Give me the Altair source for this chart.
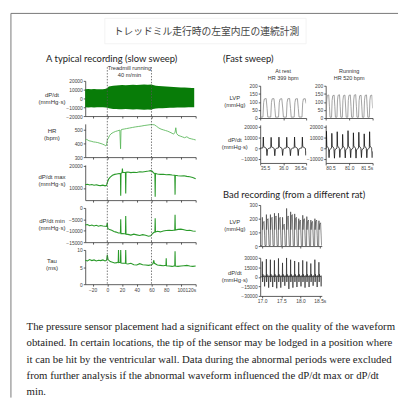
import altair as alt
import pandas as pd

# ---------------- slow sweep data ----------------
env_t = [-30,-26,-22,-18,-14,-10,-6,-2,0,2,4,8,12,16,20,25,30,35,40,45,50,55,60,62,66,70,75,80,85,90,95,100,105,110,115,118]
env_hi = [10500,10800,10400,10700,10500,10600,10400,11000,12000,13500,14000,14500,14800,15000,15200,15000,15400,15500,15300,15600,15800,15600,16000,15200,14500,14200,13800,13600,13200,13000,12800,12600,12400,12200,12000,12000]
env_lo = [-10000,-10300,-9900,-10200,-10000,-10100,-10000,-10300,-10500,-11000,-11500,-12000,-12000,-12200,-12300,-12000,-12400,-12500,-12300,-12600,-12700,-12500,-12800,-12000,-11500,-11200,-11000,-10800,-10600,-10500,-10400,-10300,-10200,-10100,-10000,-10000]

hr_t = [-30,-28,-25,-22,-19,-16,-13,-10,-7,-4,-2,-1,0,1,3,5,8,11,14,17,18,18.6,20,23,26,30,34,38,42,46,50,54,58,61,64,67,70,73,76,79,82,85,88,90,92,93,94,96,99,102,105,108,111,114,117,120]
hr_v = [420,428,418,415,410,408,405,400,395,388,382,385,425,432,455,468,478,485,490,495,360,496,500,503,506,510,514,518,521,524,528,531,534,535,533,522,510,502,497,492,487,480,472,466,480,512,472,458,452,446,440,447,436,432,428,424]

mx_t = [-30,-27,-24,-21,-18,-15,-12,-9,-6,-3,-1,0,2,4,7,10,13,16,17.8,18.2,18.6,20,20.5,21,24.6,25,25.4,28,32,36,40,44,48,52,56,59,61,63,64.6,65,65.4,68,72,76,80,84,88,91.6,92,92.4,96,100,104,108,112,116,120]
mx_v = [11500,11700,11400,11600,11300,11500,11200,11100,11300,11000,11200,12500,14200,15000,15800,16200,16400,16600,16500,6500,16700,17000,18800,17200,17100,7500,17200,17300,17000,17200,17100,17400,17300,17500,17700,17900,17600,16800,16600,6000,16600,16400,16200,16300,16000,16100,15900,15800,7000,15800,15600,15500,15600,15300,15100,14800,14200]

mn_t = [-30,-27,-24,-21,-18,-15,-12,-9,-6,-3,-1,0,0.6,3,6,9,12,15,17.8,18.2,18.6,21,24.6,25,25.4,28,32,36,40,44,48,52,56,59,61,63,64.6,65,65.4,68,72,76,80,84,88,91.6,92,92.4,96,100,104,108,112,116,120]
mn_v = [-7500,-7300,-7800,-7500,-7900,-7600,-8000,-7700,-7900,-8000,-8100,-6500,-9000,-9500,-9800,-10300,-10600,-11000,-11000,-5000,-11300,-11200,-11400,-3500,-11500,-11600,-11900,-11500,-11800,-12100,-11700,-12000,-12400,-12200,-11400,-10800,-10600,-4500,-10500,-10200,-10500,-10100,-9900,-9800,-9900,-9700,-3000,-9700,-9400,-9300,-9600,-9900,-9800,-10100,-10200]

tau_t = [-30,-27,-24,-21,-18,-15,-12,-9,-6,-3,-1,0,1,4,7,10,13,14.8,15.2,15.6,17.8,18.2,18.6,21,24.6,25,25.4,28,32,36,40,44,48,52,56,60,62,63,64,68,72,76,79.6,80,80.4,84,88,91.6,92,92.4,96,100,104,108,112,116,120]
tau_v = [7.0,6.8,7.2,6.9,7.1,6.8,7.0,6.9,7.1,6.8,7.0,8.6,7.2,6.6,6.4,6.2,6.3,6.5,10,6.3,6.4,10,6.2,6.1,6.2,10,6.0,5.9,6.1,5.7,5.6,6.0,5.7,5.6,5.5,5.7,6.0,7.0,6.1,5.6,5.5,5.4,5.5,7.6,5.4,5.3,5.2,5.4,9.6,5.3,5.2,5.3,5.4,5.5,5.3,5.2,5.3]

slow_ticks = [-20, 0, 20, 40, 60, 80, 100, 120]
run_marks = [0, 60]

# ---------------- fast sweep data ----------------
rest_lvp_t = [35.50,35.56,35.575,35.59,35.63,35.65,35.665,
              35.73,35.745,35.76,35.80,35.82,35.835,
              35.90,35.915,35.93,35.97,35.99,36.005,
              36.07,36.085,36.10,36.14,36.16,36.175,
              36.24,36.255,36.27,36.31,36.33,36.345,
              36.41,36.425,36.44,36.48,36.50]
rest_lvp_v = [6,6,95,118,121,60,6,
              6,96,119,120,58,5,
              6,94,117,120,62,6,
              5,96,119,121,60,5,
              6,95,118,120,59,6,
              6,95,118,120,90]

rest_dp_t = [35.50,35.56,35.568,35.576,35.635,35.648,35.66,35.69,
             35.73,35.738,35.746,35.805,35.818,35.83,35.86,
             35.90,35.908,35.916,35.975,35.988,36.00,36.03,
             36.07,36.078,36.086,36.145,36.158,36.17,36.20,
             36.24,36.248,36.256,36.315,36.328,36.34,36.37,
             36.41,36.418,36.426,36.485,36.498,36.50]
rest_dp_v = [-100,300,10500,1500,-300,-7000,-1200,-100,
             300,10200,1400,-300,-7200,-1100,-100,
             300,10400,1500,-300,-6900,-1200,-100,
             300,10300,1500,-300,-7100,-1200,-100,
             300,10500,1400,-300,-7000,-1100,-100,
             300,10400,1500,-300,-6800,-3000]

run_lvp_t = [80.50,80.51,80.522,80.535,80.565,80.58,80.592,
             80.625,80.637,80.65,80.68,80.695,80.707,
             80.74,80.752,80.765,80.795,80.81,80.822,
             80.855,80.867,80.88,80.91,80.925,80.937,
             80.97,80.982,80.995,81.025,81.04,81.052,
             81.085,81.097,81.11,81.14,81.155,81.167,
             81.20,81.212,81.225,81.255,81.27,81.282,
             81.315,81.327,81.34,81.37,81.385,81.397,
             81.43,81.442,81.455,81.485,81.50]
run_lvp_v = [5,5,110,140,143,70,5,
             5,108,138,142,72,5,
             5,112,141,144,70,5,
             5,110,139,142,68,5,
             5,109,140,143,71,5,
             5,111,142,145,70,5,
             5,108,138,141,69,5,
             5,110,140,143,70,5,
             5,110,139,142,60]

run_dp_t = [80.50,80.51,80.516,80.524,80.56,80.572,80.582,
            80.625,80.631,80.639,80.675,80.687,80.697,
            80.74,80.746,80.754,80.79,80.802,80.812,
            80.855,80.861,80.869,80.905,80.917,80.927,
            80.97,80.976,80.984,81.02,81.032,81.042,
            81.085,81.091,81.099,81.135,81.147,81.157,
            81.20,81.206,81.214,81.25,81.262,81.272,
            81.315,81.321,81.329,81.365,81.377,81.387,
            81.43,81.436,81.444,81.48,81.492,81.50]
run_dp_v = [-500,0,16000,2000,0,-9000,-1500,
            0,14000,2000,0,-9500,-1500,
            0,15500,2000,0,-8800,-1500,
            0,13000,2000,0,-9200,-1500,
            0,16500,2000,0,-9000,-1500,
            0,14500,2000,0,-9400,-1500,
            0,15000,2000,0,-8900,-1500,
            0,13500,2000,0,-9100,-1500,
            0,15500,2000,0,-9000,-3000]

bad_lvp_t = [16.95,
    17.000,17.006,17.012,17.025,17.050,17.065,17.075,
    17.105,17.111,17.117,17.130,17.155,17.170,17.180,
    17.210,17.216,17.222,17.235,17.260,17.275,17.285,
    17.315,17.321,17.327,17.340,17.365,17.380,17.390,
    17.420,17.426,17.432,17.445,17.470,17.485,17.495,
    17.525,17.531,17.537,17.550,17.575,17.590,17.600,
    17.630,17.636,17.642,17.655,17.680,17.695,17.705,
    17.735,17.741,17.747,17.760,17.785,17.800,17.810,
    17.840,17.846,17.852,17.865,17.890,17.905,17.915,
    17.945,17.951,17.957,17.970,17.995,18.010,18.020,
    18.050,18.056,18.062,18.075,18.100,18.115,18.125,
    18.155,18.161,18.167,18.180,18.205,18.220,18.230,
    18.260,18.266,18.272,18.285,18.310,18.325,18.335,
    18.365,18.371,18.377,18.390,18.415,18.430,18.440,
    18.470,18.476,18.482,18.495,18.520,18.535,18.545]
bad_lvp_v = [3,
    3,210,120,170,180,80,3,
    3,230,120,190,200,80,3,
    3,230,120,200,210,80,3,
    3,240,120,210,220,80,3,
    3,240,120,200,210,80,3,
    3,210,120,150,160,80,3,
    3,275,120,210,220,80,3,
    3,250,120,220,230,80,3,
    3,235,120,200,210,80,3,
    3,200,120,180,190,80,3,
    3,225,120,190,200,80,3,
    3,215,120,180,190,80,3,
    3,190,120,170,180,80,3,
    3,200,120,180,190,80,3,
    3,185,120,160,170,80,3]

bad_dp_t = [16.95,
    17.000,17.005,17.012,17.020,17.035,17.055,17.065,17.075,17.090,
    17.105,17.110,17.117,17.125,17.140,17.160,17.170,17.180,17.195,
    17.210,17.215,17.222,17.230,17.245,17.265,17.275,17.285,17.300,
    17.315,17.320,17.327,17.335,17.350,17.370,17.380,17.390,17.405,
    17.420,17.425,17.432,17.440,17.455,17.475,17.485,17.495,17.510,
    17.525,17.530,17.537,17.545,17.560,17.580,17.590,17.600,17.615,
    17.630,17.635,17.642,17.650,17.665,17.685,17.695,17.705,17.720,
    17.735,17.740,17.747,17.755,17.770,17.790,17.800,17.810,17.825,
    17.840,17.845,17.852,17.860,17.875,17.895,17.905,17.915,17.930,
    17.945,17.950,17.957,17.965,17.980,18.000,18.010,18.020,18.035,
    18.050,18.055,18.062,18.070,18.085,18.105,18.115,18.125,18.140,
    18.155,18.160,18.167,18.175,18.190,18.210,18.220,18.230,18.245,
    18.260,18.265,18.272,18.280,18.295,18.315,18.325,18.335,18.350,
    18.365,18.370,18.377,18.385,18.400,18.420,18.430,18.440,18.455,
    18.470,18.475,18.482,18.490,18.505,18.525,18.535,18.545]
bad_dp_v = [0,
    0,24000,-8000,4000,0,1500,-15000,2000,0,
    0,28000,-8000,4000,0,1500,-17000,2000,0,
    0,27000,-8000,4000,0,1500,-16000,2000,0,
    0,26000,-8000,4000,0,1500,-18000,2000,0,
    0,29000,-8000,4000,0,1500,-17000,2000,0,
    0,22000,-8000,4000,0,1500,-14000,2000,0,
    0,30000,-8000,4000,0,1500,-19000,2000,0,
    0,27000,-8000,4000,0,1500,-17000,2000,0,
    0,25000,-8000,4000,0,1500,-16000,2000,0,
    0,23000,-8000,4000,0,1500,-15000,2000,0,
    0,26000,-8000,4000,0,1500,-17000,2000,0,
    0,24000,-8000,4000,0,1500,-16000,2000,0,
    0,21000,-8000,4000,0,1500,-14000,2000,0,
    0,27000,-8000,4000,0,1500,-16000,2000,0,
    0,23000,-8000,4000,0,1500,-15000,2000]

# ---------------- texts ----------------
jp_title = "トレッドミル走行時の左室内圧の連続計測"
head_slow = "A typical recording (slow sweep)"
head_fast = "(Fast sweep)"
head_bad = "Bad recording (from a different rat)"
treadmill_label = ["Treadmill running", "40 m/min"]
paragraph = [
    "The pressure sensor placement had a significant effect on the quality of the waveform",
    "obtained. In certain locations, the tip of the sensor may be lodged in a position where",
    "it can be hit by the ventricular wall. Data during the abnormal periods were excluded",
    "from further analysis if the abnormal waveform influenced the dP/dt max or dP/dt",
    "min.",
]

SANS = "Liberation Sans"
HEAD = "Lato"
one = pd.DataFrame({"z": [0]})


def spacer(w, h):
    return alt.Chart(one).mark_point(opacity=0, size=1).encode(
        x=alt.value(0), y=alt.value(0)).properties(width=w, height=h)


def label(lines, x, y, size=6.2, lh=7.5):
    return alt.Chart(one).mark_text(text=lines, align="center", baseline="top",
                                    font=SANS, fontSize=size, color="#333",
                                    lineHeight=lh).encode(x=alt.value(x), y=alt.value(y))


# ---------------- slow sweep panels ----------------
def slow_x(show_labels):
    return alt.X("t:Q", scale=alt.Scale(domain=[-30, 120], nice=False, zero=False),
                 axis=alt.Axis(values=slow_ticks, labels=show_labels, title=None,
                               labelExpr="datum.value == 120 ? '120s' : datum.label"))


def slow_panel(df, kind, ydomain, yvals, h, lines, ly, color, show_x=False,
               rule_top=-9, extra=None, sw=1.0):
    X = slow_x(show_x)
    Y = alt.Y("v:Q", scale=alt.Scale(domain=ydomain, nice=False, zero=False),
              axis=alt.Axis(values=yvals, title=None, format="d"))
    if kind == "area":
        main = alt.Chart(df).mark_area(color=color, opacity=1).encode(
            x=X, y=Y, y2="lo:Q")
    else:
        main = alt.Chart(df).mark_line(color=color, strokeWidth=sw).encode(x=X, y=Y)
    rules = alt.Chart(pd.DataFrame({"t": run_marks})).mark_rule(
        color="#555", strokeDash=[1.5, 1.5], strokeWidth=0.8).encode(
        x=X, y=alt.value(rule_top), y2=alt.value(h))
    layers = [main, rules, label(lines, -34, ly)]
    if extra is not None:
        layers.append(extra)
    return alt.layer(*layers).properties(width=113, height=h)


df_env = pd.DataFrame({"t": env_t, "v": env_hi, "lo": env_lo})
df_hr = pd.DataFrame({"t": hr_t, "v": hr_v})
df_mx = pd.DataFrame({"t": mx_t, "v": mx_v})
df_mn = pd.DataFrame({"t": mn_t, "v": mn_v})
df_tau = pd.DataFrame({"t": tau_t, "v": tau_v})

tread = alt.Chart(pd.DataFrame({"t": [30]})).mark_text(
    text=treadmill_label, align="center", baseline="top", font=SANS, fontSize=5.8,
    color="#333", lineHeight=7.5).encode(x=slow_x(False), y=alt.value(-16))

p1 = slow_panel(df_env, "area", [-20000, 20000], [-20000, -10000, 0, 10000, 20000], 36,
                ["dP/dt", "(mmHg·s)"], 11, "#087c08", rule_top=-14, extra=tread)
p2 = slow_panel(df_hr, "line", [300, 540], [300, 400, 500], 34,
                ["HR", "(bpm)"], 4, "#5cb85c", sw=0.9)
p3 = slow_panel(df_mx, "line", [4500, 20500], [10000, 20000], 36,
                ["dP/dt max", "(mmHg·s)"], 9, "#2a9a2a", sw=1.1)
p4 = slow_panel(df_mn, "line", [-15000, 0], [-15000, -10000, -5000, 0], 35,
                ["dP/dt min", "(mmHg·s)"], 10, "#2a9a2a", sw=1.1)
p5 = slow_panel(df_tau, "line", [0, 10], [0, 5, 10], 35,
                ["Tau", "(ms)"], 8, "#2a9a2a", show_x=True, sw=1.1)

left_col = alt.vconcat(p1, p2, p3, p4, p5, spacing=8, bounds="flush")


# ---------------- fast sweep panels ----------------
def fast_panel(t, v, xdom, xvals, ydom, yvals, w, h, color, show_x, lines=None,
               title=None, sw=0.8):
    df = pd.DataFrame({"t": t, "v": v})
    last = xvals[-1]
    X = alt.X("t:Q", scale=alt.Scale(domain=xdom, nice=False, zero=False),
              axis=alt.Axis(values=xvals, labels=show_x, title=None, format=".1f",
                            labelExpr=f"datum.value == {last} ? datum.label + 's' : datum.label"))
    Y = alt.Y("v:Q", scale=alt.Scale(domain=ydom, nice=False, zero=False),
              axis=alt.Axis(values=yvals, title=None, format="d"))
    layers = [alt.Chart(df).mark_line(color=color, strokeWidth=sw, clip=True).encode(x=X, y=Y)]
    if lines is not None:
        layers.append(label(lines, -26, h / 2 - 7, size=6, lh=7.5))
    ch = alt.layer(*layers).properties(width=w, height=h)
    if title is not None:
        ch = ch.properties(title=alt.TitleParams(title, fontSize=5.6, font=SANS, color="#333",
                                                 fontWeight="normal", anchor="middle",
                                                 offset=2, lineHeight=7.5))
    return ch


rest_lvp = fast_panel(rest_lvp_t, rest_lvp_v, [35.5, 36.5], [35.5, 36.0, 36.5],
                      [0, 200], [0, 50, 100, 150, 200], 47, 33, "#8a8a8a", False,
                      lines=["LVP", "(mmHg)"], title=["At rest", "HR 399 bpm"])
rest_dp = fast_panel(rest_dp_t, rest_dp_v, [35.5, 36.5], [35.5, 36.0, 36.5],
                     [-14000, 22000], [-10000, 0, 10000, 20000], 47, 39, "#111", True,
                     lines=["dP/dt", "(mmHg·s)"])
run_lvp = fast_panel(run_lvp_t, run_lvp_v, [80.5, 81.5], [80.5, 81.0, 81.5],
                     [0, 200], [0, 50, 100, 150, 200], 48, 33, "#8a8a8a", False,
                     title=["Running", "HR 520 bpm"])
run_dp = fast_panel(run_dp_t, run_dp_v, [80.5, 81.5], [80.5, 81.0, 81.5],
                    [-14000, 22000], [-10000, 0, 10000, 20000], 48, 39, "#111", True)

bad_lvp = fast_panel(bad_lvp_t, bad_lvp_v, [16.95, 18.55], [17.0, 17.5, 18.0, 18.5],
                     [0, 300], [0, 100, 200, 300], 63, 42, "#444", False,
                     lines=["LVP", "(mmHg)"], sw=0.7)
bad_dp = fast_panel(bad_dp_t, bad_dp_v, [16.95, 18.55], [17.0, 17.5, 18.0, 18.5],
                    [-30000, 30000], [-30000, -15000, 0, 15000, 30000], 63, 39, "#222", True,
                    lines=["dP/dt", "(mmHg·s)"], sw=0.7)

# nested concat groups take no room in a flush layout, so the gaps carry the offsets
fast_block = alt.hconcat(
    alt.vconcat(rest_lvp, rest_dp, spacing=7, bounds="flush"),
    alt.vconcat(run_lvp, run_dp, spacing=7, bounds="flush"),
    spacing=67, bounds="flush")

right_col = alt.vconcat(spacer(1, 5), fast_block, spacer(1, 122), bad_lvp, spacer(1, 12), bad_dp,
                        spacing=0, bounds="flush")

row_b = alt.hconcat(spacer(76, 1), left_col, spacer(179, 1), right_col, spacing=0, bounds="flush")

# ---------------- frame, headings, paragraph ----------------
frame_h = alt.Chart(one).mark_rule(color="#777", strokeWidth=1).encode(
    x=alt.value(0), x2=alt.value(396), y=alt.value(0))
frame_v = alt.Chart(one).mark_rule(color="#777", strokeWidth=1).encode(
    x=alt.value(0), y=alt.value(0), y2=alt.value(393))
title_box = alt.Chart(one).mark_rect(fill="#ffffff", stroke="#f3f3f3", strokeWidth=1).encode(
    x=alt.value(96), x2=alt.value(302), y=alt.value(5), y2=alt.value(31))
t_jp = alt.Chart(one).mark_text(text=jp_title, font="Noto Sans CJK JP", fontSize=10,
                                color="#444", align="center", baseline="middle").encode(
    x=alt.value(200), y=alt.value(19))
t_slow = alt.Chart(one).mark_text(text=head_slow, font=HEAD, fontSize=9.6, color="#222",
                                  align="left", baseline="middle").encode(
    x=alt.value(36), y=alt.value(47))
t_fast = alt.Chart(one).mark_text(text=head_fast, font=HEAD, fontSize=9.6, color="#222",
                                  align="left", baseline="middle").encode(
    x=alt.value(217), y=alt.value(47))
t_bad = alt.Chart(one).mark_text(text=head_bad, font=HEAD, fontSize=9.6, color="#222",
                                 align="left", baseline="middle").encode(
    x=alt.value(217), y=alt.value(186))
t_para = alt.Chart(one).mark_text(text=paragraph, font="Liberation Serif", fontSize=11,
                                  color="#222", align="left", baseline="top",
                                  lineHeight=16.6).encode(
    x=alt.value(16), y=alt.value(315))

top = alt.layer(frame_h, frame_v, title_box, t_jp, t_slow, t_fast, t_bad, t_para).properties(
    width=396, height=69)

chart = alt.vconcat(top, row_b, spacing=0, bounds="flush").properties(
    padding={"left": 2, "top": 0, "right": 0, "bottom": 0}
).configure_view(stroke=None).configure_axis(
    domainColor="#333", domainWidth=0.8, tickColor="#333", tickWidth=0.8, tickSize=2,
    labelFontSize=5, labelColor="#444", labelPadding=1, labelFont=SANS, grid=False
)

chart.save("out.html", embed_options={"renderer": "svg", "actions": False})
